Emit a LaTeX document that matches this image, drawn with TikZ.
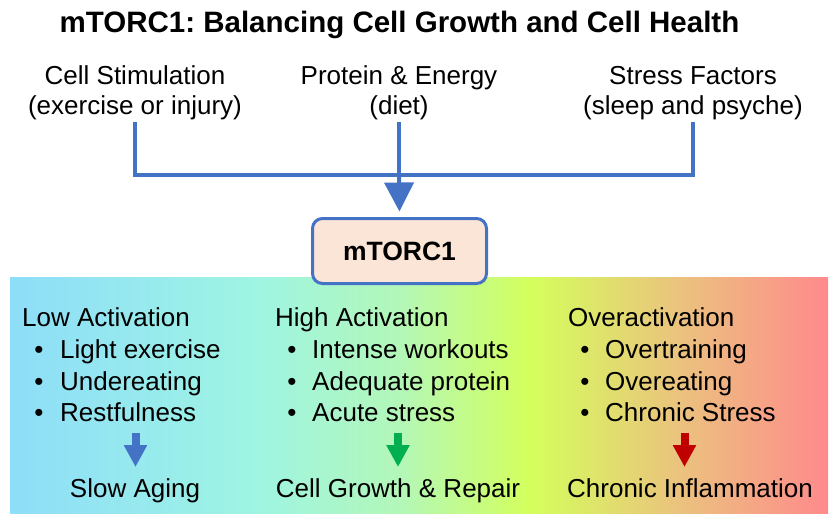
\documentclass[tikz,border=0pt]{standalone}
\usepackage{fontspec}
\setmainfont{Liberation Sans}
\usetikzlibrary{arrows.meta}
\frenchspacing
\definecolor{cblue}{HTML}{4472C4}
\definecolor{cgreen}{HTML}{00B050}
\definecolor{cred}{HTML}{C00000}
\definecolor{boxfill}{HTML}{FBE5D6}
\definecolor{g1}{HTML}{8EDDF9}
\definecolor{g2}{HTML}{9FF5E2}
\definecolor{g3}{HTML}{B3F7B8}
\definecolor{g4}{HTML}{D4FF5C}
\definecolor{g5}{HTML}{EBC27E}
\definecolor{g6}{HTML}{FF8A8C}
\begin{document}
\begin{tikzpicture}[x=1pt,y=-1pt,
  txt/.style={inner sep=0pt, font=\fontsize{26}{30}\selectfont},
  ttl/.style={inner sep=0pt, font=\fontsize{29.5}{34}\selectfont\bfseries},
  conn/.style={draw=cblue, line width=4pt, line join=miter},
  coreBox/.style={draw=cblue, line width=3pt, fill=boxfill, rounded corners=10pt,
    minimum width=174pt, minimum height=65pt, inner sep=0pt,
    font=\fontsize{26.5}{30}\selectfont\bfseries},
  smallArrow/.style={line width=8pt, -{Triangle[width=22pt,length=22pt]}},
]
\useasboundingbox (0,0) rectangle (840,520);
\fill[white] (0,0) rectangle (840,520);
% gradient band
\shade[left color=g1, right color=g2] (10,277) rectangle (260.5,513);
\shade[left color=g2, right color=g3] (260,277) rectangle (400.5,513);
\shade[left color=g3, right color=g4] (400,277) rectangle (530.5,513);
\shade[left color=g4, right color=g5] (530,277) rectangle (680.5,513);
\shade[left color=g5, right color=g6] (680,277) rectangle (828,513);

% title
\node[ttl, anchor=base] (title) at (399.5,32) {mTORC1: Balancing Cell Growth and Cell Health};

% inputs
\node[txt, anchor=base] (stim) at (135,84) {Cell Stimulation};
\node[txt, anchor=base] (stimsub) at (135,114) {(exercise or injury)};
\node[txt, anchor=base] (prot) at (399,84) {Protein \& Energy};
\node[txt, anchor=base] (protsub) at (399,114) {(diet)};
\node[txt, anchor=base] (stress) at (693,84) {Stress Factors};
\node[txt, anchor=base] (stresssub) at (693,114) {(sleep and psyche)};

\coordinate (sTop) at (135,122);
\coordinate (pTop) at (399,122);
\coordinate (rTop) at (693,122);
\coordinate (jL) at (135,175);
\coordinate (jM) at (399,175);
\coordinate (jR) at (693,175);

% core box
\node[coreBox] (core) at (399.5,251) {mTORC1};

\draw[conn] (sTop) -- (jL) -- (jR) -- (rTop);
\draw[conn] (pTop) -- (jM);
\draw[conn, -{Triangle[width=29pt,length=29pt]}, shorten >=5.5pt] (jM) -- (core.north);

% column 1
\node[txt, anchor=base west] (low) at (22,326) {Low Activation};
\node[txt, anchor=base] (b11) at (39,358) {•};
\node[txt, anchor=base west] (l1) at (60,358) {Light exercise};
\node[txt, anchor=base] (b12) at (39,390) {•};
\node[txt, anchor=base west] (l2) at (60,390) {Undereating};
\node[txt, anchor=base] (b13) at (39,421) {•};
\node[txt, anchor=base west] (l3) at (60,421) {Restfulness};
\node[txt, anchor=base] (slow) at (135,497) {Slow Aging};
\coordinate (a1s) at (135.5,433);
\coordinate (a1e) at (135.5,467);
\draw[smallArrow, draw=cblue, fill=cblue] (a1s) -- (a1e);

% column 2
\node[txt, anchor=base west] (high) at (275,326) {High Activation};
\node[txt, anchor=base] (b21) at (292,358) {•};
\node[txt, anchor=base west] (h1) at (312,358) {Intense workouts};
\node[txt, anchor=base] (b22) at (292,390) {•};
\node[txt, anchor=base west] (h2) at (312,390) {Adequate protein};
\node[txt, anchor=base] (b23) at (292,421) {•};
\node[txt, anchor=base west] (h3) at (312,421) {Acute stress};
\node[txt, anchor=base] (grow) at (398,497) {Cell Growth \& Repair};
\coordinate (a2s) at (398,433);
\coordinate (a2e) at (398,467);
\draw[smallArrow, draw=cgreen, fill=cgreen] (a2s) -- (a2e);

% column 3
\node[txt, anchor=base west] (over) at (568,326) {Overactivation};
\node[txt, anchor=base] (b31) at (585,358) {•};
\node[txt, anchor=base west] (o1) at (605,358) {Overtraining};
\node[txt, anchor=base] (b32) at (585,390) {•};
\node[txt, anchor=base west] (o2) at (605,390) {Overeating};
\node[txt, anchor=base] (b33) at (585,421) {•};
\node[txt, anchor=base west] (o3) at (605,421) {Chronic Stress};
\node[txt, anchor=base] (infl) at (690,497) {Chronic Inflammation};
\coordinate (a3s) at (684.5,433);
\coordinate (a3e) at (684.5,467);
\draw[smallArrow, draw=cred, fill=cred] (a3s) -- (a3e);
\end{tikzpicture}
\end{document}
